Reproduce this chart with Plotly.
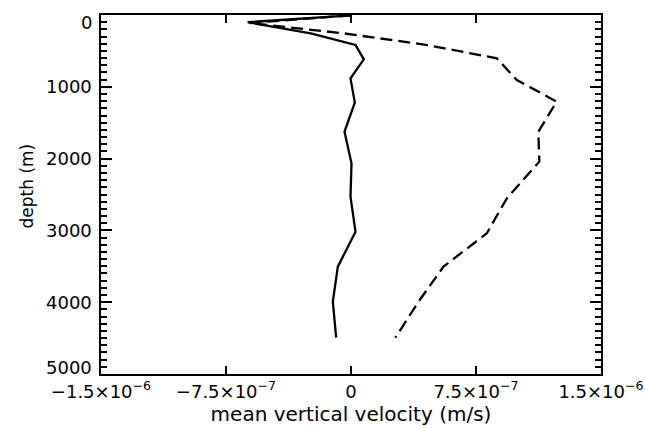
import plotly.graph_objects as go

# Mean vertical velocity profiles (m/s) against depth (m)
depth_solid = [5, 100, 255, 418, 617, 882, 1221, 1625, 2066, 2530, 3018, 3505, 3993, 4494]
w_solid = [0.0, -6.2e-7, -2.42e-7, 2.7e-8, 7.7e-8, -3e-9, 2.3e-8, -3.9e-8, 3e-9, -3e-9,
           2.7e-8, -7.9e-8, -1.09e-7, -8.9e-8]

depth_dashed = [5, 112, 255, 418, 603, 905, 1207, 1625, 2043, 2553, 3040, 3505, 3993, 4494]
w_dashed = [0.0, -6.1e-7, -4.5e-8, 4.56e-7, 8.75e-7, 9.95e-7, 1.234e-6, 1.124e-6, 1.13e-6,
            9.35e-7, 8.15e-7, 5.55e-7, 4.05e-7, 2.66e-7]

x_ticks = [-1.5e-6, -7.5e-7, 0, 7.5e-7, 1.5e-6]
x_ticktext = ["\u22121.5\u00d710<sup>\u22126</sup>", "\u22127.5\u00d710<sup>\u22127</sup>", "0",
              "7.5\u00d710<sup>\u22127</sup>", "1.5\u00d710<sup>\u22126</sup>"]
y_ticks = [0, 1000, 2000, 3000, 4000, 5000]

FONT = "DejaVu Sans"
FS = 17
TICK_FS = 18

fig = go.Figure()
fig.add_trace(go.Scatter(x=w_solid, y=depth_solid, mode="lines",
                         line=dict(color="black", width=2.3), showlegend=False))
fig.add_trace(go.Scatter(x=w_dashed, y=depth_dashed, mode="lines",
                         line=dict(color="black", width=2.3, dash="12px,6px"), showlegend=False))

# Depth labels; the two end labels are nudged inside the frame
for v in y_ticks:
    shift = -7 if v == y_ticks[0] else (7 if v == y_ticks[-1] else 0)
    fig.add_annotation(x=0, xref="paper", y=v, yref="y", text=str(v), showarrow=False,
                       xanchor="right", yanchor="middle", xshift=-7, yshift=shift,
                       font=dict(family=FONT, size=TICK_FS, color="black"))

fig.update_layout(
    template="none",
    width=645, height=430,
    margin=dict(l=101, r=44, t=15, b=56),
    paper_bgcolor="white", plot_bgcolor="white",
    font=dict(family=FONT, size=FS, color="black"),
    xaxis=dict(range=[-1.5e-6, 1.5e-6], tickmode="array", tickvals=x_ticks, ticktext=x_ticktext,
               tickfont=dict(size=TICK_FS),
               ticks="inside", ticklen=8, tickwidth=2, tickcolor="black",
               showline=True, linewidth=2, linecolor="black", mirror="allticks",
               showgrid=False, zeroline=False,
               title=dict(text="mean vertical velocity (m/s)", standoff=6)),
    yaxis=dict(range=[5000, 0], tickmode="linear", tick0=0, dtick=1000,
               showticklabels=False,
               ticks="inside", ticklen=11, tickwidth=2, tickcolor="black",
               minor=dict(tickmode="linear", tick0=0, dtick=100, ticks="inside", ticklen=6,
                          tickwidth=2, tickcolor="black", showgrid=False),
               showline=True, linewidth=2, linecolor="black", mirror="allticks",
               showgrid=False, zeroline=False),
)

# Axis title for depth, placed beside the labels
fig.add_annotation(x=0, xref="paper", y=0.5, yref="paper", text="depth (m)", textangle=-90,
                   showarrow=False, xanchor="center", yanchor="middle", xshift=-75, yshift=8,
                   font=dict(family=FONT, size=FS, color="black"))

fig.write_html("out.html")
